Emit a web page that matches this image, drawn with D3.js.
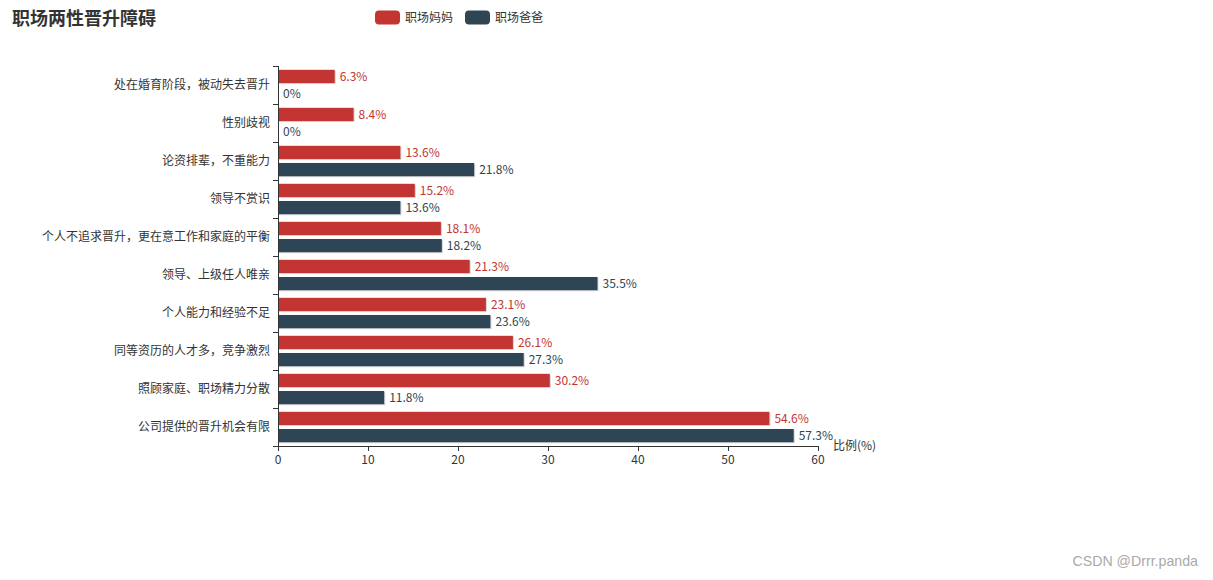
<!DOCTYPE html>
<html><head><meta charset="utf-8">
<script src="https://cdn.jsdelivr.net/npm/d3@7"></script>
<style>body{margin:0;background:#fff;}svg{display:block;font-family:"Noto Sans CJK SC","Microsoft YaHei",sans-serif;}</style>
</head><body>
<svg id="chart" width="1213" height="580"></svg>
<script>
const categories = ["处在婚育阶段，被动失去晋升","性别歧视","论资排辈，不重能力","领导不赏识","个人不追求晋升，更在意工作和家庭的平衡","领导、上级任人唯亲","个人能力和经验不足","同等资历的人才多，竞争激烈","照顾家庭、职场精力分散","公司提供的晋升机会有限"];
const momValues = [6.3, 8.4, 13.6, 15.2, 18.1, 21.3, 23.1, 26.1, 30.2, 54.6];
const dadValues = [0, 0, 21.8, 13.6, 18.2, 35.5, 23.6, 27.3, 11.8, 57.3];
const seriesNames = ["职场妈妈","职场爸爸"];
const colors = ["#c23531","#2f4554"];
const xTicks = [0,10,20,30,40,50,60];

(function(){
const svg = d3.select("#chart");
const defs = svg.append("defs");
const f = defs.append("filter").attr("id","sh").attr("x","-5%").attr("y","-20%").attr("width","110%").attr("height","160%");
f.append("feDropShadow").attr("dx",1).attr("dy",1).attr("stdDeviation",0.6).attr("flood-color","#000").attr("flood-opacity",0.18);

const L = 278, R = 818, T = 66, B = 446;
const x = d3.scaleLinear().domain([0,60]).range([L,R]);
const y = d3.scaleBand().domain(categories).range([T,B]).paddingInner(0.2).paddingOuter(0.1);
const yBand = d3.scaleBand().domain(categories).range([T,B]);

// title
svg.append("text").attr("x",12).attr("y",25).text("职场两性晋升障碍")
  .attr("font-size",18).attr("font-weight","bold").attr("fill","#333");

// legend
const lg = svg.append("g");
const legX = [375, 465];
seriesNames.forEach((n,i)=>{
  lg.append("rect").attr("x",legX[i]).attr("y",10.5).attr("width",25).attr("height",14).attr("rx",4).attr("fill",colors[i]);
  lg.append("text").attr("x",legX[i]+30).attr("y",22).text(n).attr("font-size",12).attr("fill","#333");
});

// bars
const bh = y.bandwidth()/2.3;
const series = [momValues, dadValues];
series.forEach((vals,si)=>{
  const g = svg.append("g");
  g.selectAll("rect").data(categories).join("rect")
    .attr("x",x(0))
    .attr("y",c=>y(c)+si*bh*1.3)
    .attr("width",(c,i)=>x(vals[i])-x(0))
    .attr("height",bh)
    .attr("fill",colors[si])
    .attr("filter","url(#sh)");
  g.selectAll("text").data(categories).join("text")
    .attr("x",(c,i)=>x(vals[i])+5)
    .attr("y",c=>y(c)+si*bh*1.3+bh/2)
    .attr("dy","0.35em")
    .attr("font-size",12)
    .attr("fill",colors[si])
    .text((c,i)=>vals[i]+"%");
});

// y axis
const yAxis = svg.append("g").attr("transform",`translate(${L},0)`);
yAxis.append("line").attr("x1",0.5).attr("x2",0.5).attr("y1",T).attr("y2",B).attr("stroke","#333");
const yT = categories.map(c=>yBand(c)).concat([B]);
yAxis.selectAll("line.t").data(yT).join("line").attr("class","t")
  .attr("x1",-5).attr("x2",0.5).attr("y1",d=>Math.round(d)+0.5).attr("y2",d=>Math.round(d)+0.5).attr("stroke","#333");
yAxis.selectAll("text").data(categories).join("text")
  .attr("x",-8).attr("y",c=>yBand(c)+yBand.bandwidth()/2).attr("dy","0.35em")
  .attr("text-anchor","end").attr("font-size",12).attr("fill","#333").text(c=>c);

// x axis
const xAxis = svg.append("g");
xAxis.append("line").attr("x1",L).attr("x2",R).attr("y1",B+0.5).attr("y2",B+0.5).attr("stroke","#333");
xAxis.selectAll("line.t").data(xTicks).join("line").attr("class","t")
  .attr("x1",d=>Math.round(x(d))+0.5).attr("x2",d=>Math.round(x(d))+0.5)
  .attr("y1",B).attr("y2",B+5).attr("stroke","#333");
xAxis.selectAll("text").data(xTicks).join("text")
  .attr("x",d=>x(d)).attr("y",B+14).attr("dy","0.35em")
  .attr("text-anchor","middle").attr("font-size",12).attr("fill","#333").text(d=>d);
svg.append("text").attr("x",R+15).attr("y",B).attr("dy","0.35em")
  .attr("font-size",12).attr("fill","#333").text("比例(%)");

// watermark
svg.append("text").attr("x",1198).attr("y",566).attr("text-anchor","end")
  .attr("font-family","Liberation Sans, Arial, sans-serif").attr("font-size",14.2).attr("fill","#aaa").text("CSDN @Drrr.panda");
})();
</script>
</body></html>
